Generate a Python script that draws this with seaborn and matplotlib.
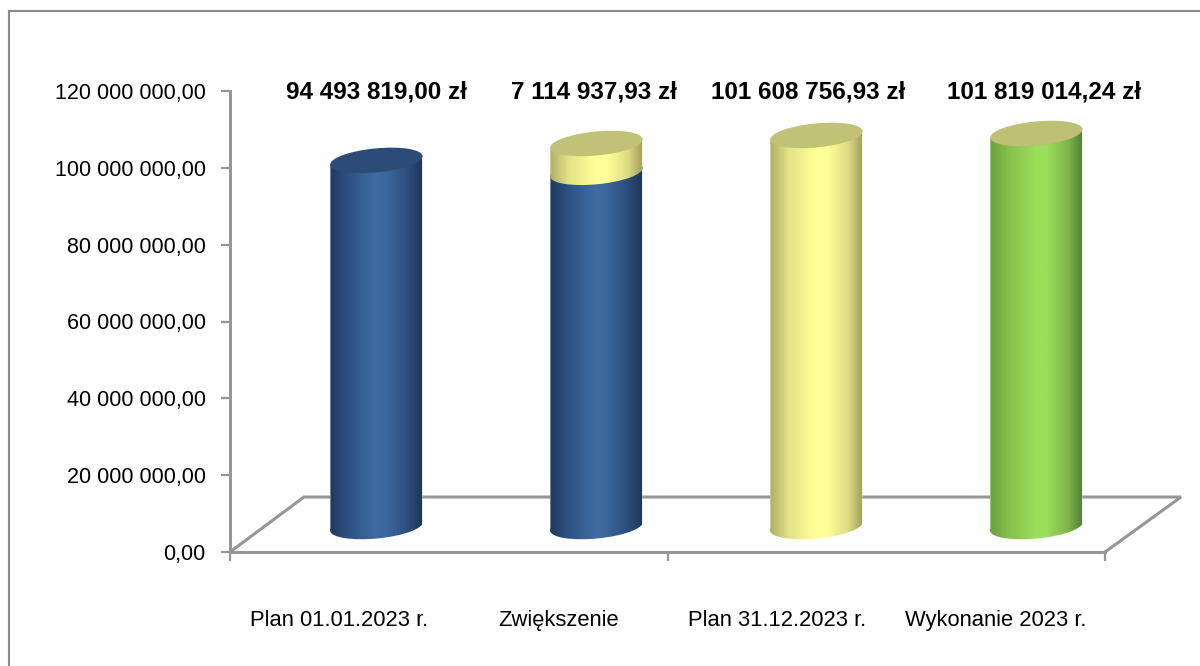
import numpy as np
import matplotlib
matplotlib.use("Agg")
import matplotlib.pyplot as plt
import seaborn as sns
from matplotlib.colors import LinearSegmentedColormap
from matplotlib.lines import Line2D
from matplotlib.patches import Ellipse, PathPatch
from matplotlib.path import Path
from matplotlib.transforms import Affine2D, IdentityTransform

# ---- data ----
categories = ["Plan 01.01.2023 r.", "Zwiększenie", "Plan 31.12.2023 r.", "Wykonanie 2023 r."]
value_labels = ["94 493 819,00 zł", "7 114 937,93 zł", "101 608 756,93 zł", "101 819 014,24 zł"]
segment_category = [0, 1, 1, 2, 3]
segment_low = [0, 0, 92200000, 0, 0]
segment_value = [95300000, 92200000, 7500000, 101800000, 102300000]
segment_kind = ["blue", "blue", "yellow", "yellow", "green"]
y_ticks = [0, 20000000, 40000000, 60000000, 80000000, 100000000, 120000000]

# ---- styling ----
W, H = 1200, 666
GRAY = "#969696"
DX, DY = 37.0, 25.5       # perspective shift of the bars, px
STEP = 1.25               # extra spacing of the cylinders per category, px
BAR_W = 0.42
ELL_H, ELL_ANG = 24, 5.5
LABEL_NUDGE = [37, 36, 31, 48]
STYLES = {
    "blue": (["#1f3a5f", "#2e5283", "#3f6ca3", "#3b669a", "#2c4e7c", "#1f3657"], "#2c4c77"),
    "yellow": (["#aeae68", "#e2e288", "#ffff99", "#ffff99", "#dcdc84", "#a3a35f"], "#c1c178"),
    "green": (["#6a9e3c", "#86c04c", "#9bde5a", "#9bde5a", "#7fb64a", "#55803a"], "#bfbf75"),
}
STOPS = [0.0, 0.2, 0.5, 0.62, 0.85, 1.0]

sns.set_theme(style="white")
plt.rcParams["font.family"] = ["Liberation Sans Narrow", "Liberation Sans", "DejaVu Sans"]

fig = plt.figure(figsize=(W / 100, H / 100), dpi=100, facecolor="white")
ax = fig.add_axes([230 / W, (H - 552) / H, (1105 - 230) / W, (552 - 91) / H])
ax.patch.set_alpha(0)

ident = IdentityTransform()
grad = np.linspace(0, 1, 256).reshape(1, -1)

ax.set_xlim(-0.5, 3.5)
ax.set_ylim(0, 120000000)

bars = []
for cat_i, low, value, kind in zip(segment_category, segment_low, segment_value, segment_kind):
    sns.barplot(x=[categories[cat_i]], y=[value], order=categories, color=STYLES[kind][1],
                saturation=1, width=BAR_W, ax=ax, zorder=1)
    bar = ax.patches[-1]
    bar.set_y(low)
    bars.append((bar, cat_i, low, value, kind))

ax.set_xlim(-0.5, 3.5)
ax.set_ylim(0, 120000000)
fig.canvas.draw()

z = 3
for bar, cat_i, low, value, kind in bars:
    shift = ax.transData + Affine2D().translate(DX + cat_i * STEP, DY)
    bar.set_transform(shift)
    x0, y0 = shift.transform((bar.get_x(), low))
    x1, y1 = shift.transform((bar.get_x() + bar.get_width(), low + value))
    xc = (x0 + x1) / 2
    half = (x1 - x0) / 2
    ell_w = 2 * half / np.cos(np.radians(ELL_ANG)) + 0.5
    tilt = half * np.tan(np.radians(ELL_ANG))
    rot = Affine2D().scale(ell_w / 2, ELL_H / 2).rotate_deg(ELL_ANG).translate(xc, y0)
    body = Path.make_compound_path(
        Path([(x0, y0 - tilt), (x1, y0 + tilt), (x1, y1 + tilt), (x0, y1 - tilt), (x0, y0 - tilt)],
             closed=True),
        Path.unit_circle().transformed(rot),
    )
    cmap = LinearSegmentedColormap.from_list(kind, list(zip(STOPS, STYLES[kind][0])))
    im = ax.imshow(grad, cmap=cmap, aspect="auto", origin="lower", zorder=z,
                   extent=(x0, x1, y0 - ELL_H, y1 + ELL_H), transform=ident)
    clip = PathPatch(body, transform=ident, visible=False)
    ax.add_patch(clip)
    im.set_clip_path(clip)
    bar.set_clip_path(clip)
    top = Ellipse((xc, y1), ell_w, ELL_H, angle=ELL_ANG, transform=ident,
                  facecolor=STYLES[kind][1], edgecolor="none", zorder=z + 1)
    ax.add_patch(top)
    z += 2

ax.set_xlim(-0.5, 3.5)
ax.set_ylim(0, 120000000)

# floor of the 3D plot
floor_x = [230, 304, 1181, 1105]
floor_y = [H - 552, H - 497, H - 497, H - 552]
ax.add_line(Line2D(floor_x, floor_y, color=GRAY, lw=2.2, transform=ident, clip_on=False,
                   zorder=0.5, solid_joinstyle="miter"))

# axes
sns.despine(ax=ax, top=True, right=True)
for side in ("left", "bottom"):
    ax.spines[side].set_color(GRAY)
    ax.spines[side].set_linewidth(2.2)
ax.set_yticks(y_ticks)
ax.set_yticklabels([f"{v:,.2f}".replace(",", " ").replace(".", ",") for v in y_ticks])
ax.tick_params(axis="y", left=True, length=6.5, width=1.6, color=GRAY, labelsize=15.5,
               labelcolor="black", pad=11)
ax.set_xticks([-0.5, 1.5, 3.5])
ax.set_xticklabels([])
ax.tick_params(axis="x", which="major", bottom=True, length=6.5, width=1.6, color=GRAY)
ax.set_xticks(range(4), labels=categories, minor=True)
ax.tick_params(axis="x", which="minor", bottom=False, length=0, labelsize=15.8,
               labelcolor="black", pad=42)
ax.set_xlabel("")
ax.set_ylabel("")

for i, (txt, nudge) in enumerate(zip(value_labels, LABEL_NUDGE)):
    ax.annotate(txt, xy=(i, 120000000), xytext=(nudge * 0.72, -0.7), textcoords="offset points",
                ha="center", va="center", fontsize=17.5, fontweight="bold", color="black",
                annotation_clip=False)

# chart frame
fig.add_artist(Line2D([9 / W, 9 / W, 1], [0, (H - 11) / H, (H - 11) / H], color="#8a8a8a", lw=1.5,
                      transform=fig.transFigure, solid_joinstyle="miter"))

fig.savefig("out.png", dpi=100)
